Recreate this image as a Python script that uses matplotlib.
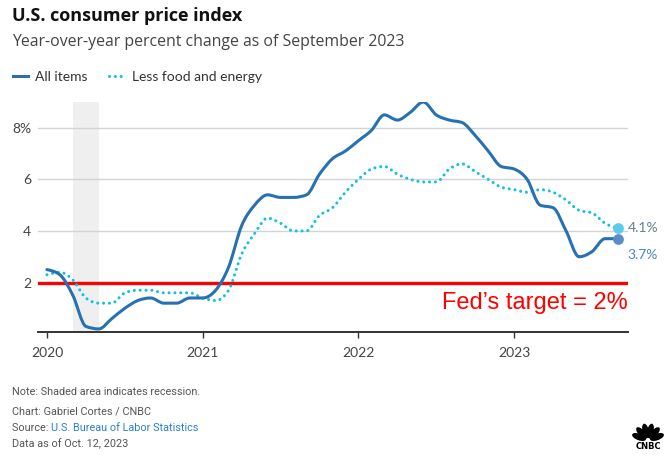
import numpy as np
import matplotlib.pyplot as plt
import matplotlib.patches as patches
from matplotlib.path import Path
from matplotlib.lines import Line2D

########## DATA (monthly, Jan 2020 .. Sep 2023) ##########
months = np.arange(45)  # 0 = Jan 2020
all_items = [2.5, 2.3, 1.5, 0.3, 0.2, 0.6, 1.0, 1.3, 1.4, 1.2, 1.2, 1.4,
             1.4, 1.7, 2.6, 4.2, 5.0, 5.4, 5.3, 5.3, 5.4, 6.2, 6.8, 7.1,
             7.5, 7.9, 8.5, 8.3, 8.6, 9.0, 8.5, 8.3, 8.2, 7.7, 7.1, 6.5,
             6.4, 6.0, 5.0, 4.9, 4.0, 3.0, 3.2, 3.7, 3.7]
core = [2.3, 2.4, 2.1, 1.4, 1.2, 1.2, 1.6, 1.7, 1.7, 1.6, 1.6, 1.6,
        1.4, 1.3, 1.7, 3.1, 3.9, 4.5, 4.3, 4.0, 4.0, 4.6, 4.9, 5.5,
        6.0, 6.4, 6.5, 6.2, 6.0, 5.9, 5.9, 6.4, 6.6, 6.3, 6.0, 5.7,
        5.6, 5.5, 5.6, 5.5, 5.2, 4.8, 4.7, 4.3, 4.1]
year_ticks = [0, 12, 24, 36]
year_labels = ['2020', '2021', '2022', '2023']
recession = (2, 4)   # Feb-Apr 2020
fed_target = 2

BLUE = '#2771b3'
CYAN = '#12bfe6'


def monotone_path(x, y):
    # monotone cubic (like d3 curveMonotoneX), returned as bezier path
    x = np.asarray(x, float)
    y = np.asarray(y, float)
    h = np.diff(x)
    d = np.diff(y) / h
    m = np.zeros_like(y)
    for i in range(1, len(y) - 1):
        s0, s1 = d[i - 1], d[i]
        p = (s0 * h[i] + s1 * h[i - 1]) / (h[i - 1] + h[i])
        m[i] = (np.sign(s0) + np.sign(s1)) * min(abs(s0), abs(s1), 0.5 * abs(p))
    m[0] = (3 * d[0] - m[1]) / 2
    m[-1] = (3 * d[-1] - m[-2]) / 2
    verts = [(x[0], y[0])]
    codes = [Path.MOVETO]
    for i in range(len(x) - 1):
        dx = h[i] / 3
        verts += [(x[i] + dx, y[i] + m[i] * dx),
                  (x[i + 1] - dx, y[i + 1] - m[i + 1] * dx),
                  (x[i + 1], y[i + 1])]
        codes += [Path.CURVE4] * 3
    return Path(verts, codes)


plt.rcParams['font.family'] = ['Lato', 'DejaVu Sans']

fig = plt.figure(figsize=(6.72, 4.69), dpi=100)
ax = fig.add_axes([0.0565, 0.2915, 0.878, 0.491])

ax.axvspan(recession[0], recession[1], color='#efefef', lw=0, zorder=0)
ax.grid(axis='y', color='#d3d3d3', lw=1, zorder=1)
ax.axhline(fed_target, color='#ff0000', lw=2.4, zorder=2)

p1 = patches.PathPatch(monotone_path(months, all_items), fill=False,
                       edgecolor=BLUE, lw=2.2, capstyle='round',
                       joinstyle='round', zorder=4)
ax.add_patch(p1)
p2 = patches.PathPatch(monotone_path(months, core), fill=False,
                       edgecolor=CYAN, lw=2.2, linestyle=(0, (0.01, 1.9)),
                       capstyle='round', zorder=3)
ax.add_patch(p2)

# end points
ax.scatter(months[-1], core[-1], s=60, color='#5ccbea', zorder=5, lw=0)
ax.scatter(months[-1], all_items[-1], s=60, color='#5a8dc6', zorder=5, lw=0)
ax.annotate(f'{core[-1]}%', (months[-1], core[-1]), xytext=(7, 0),
            textcoords='offset points', va='center', ha='left',
            fontsize=10, color='#62808e')
ax.annotate(f'{all_items[-1]}%', (months[-1], all_items[-1]), xytext=(7, -12),
            textcoords='offset points', va='center', ha='left',
            fontsize=10, color='#4a86c5')

ax.text(44.75, fed_target - 0.35, 'Fed\u2019s target = 2%', color='#ff0000',
        fontsize=17, ha='right', va='top', family=['Liberation Sans'])

ax.set_xlim(-0.69, 44.77)
ax.set_ylim(0.07, 9.0)
ax.set_yticks([2, 4, 6, 8])
ax.set_yticklabels(['2', '4', '6', '8%'])
ax.set_xticks(year_ticks)
ax.set_xticklabels(year_labels)
ax.tick_params(axis='y', length=0, pad=5, labelsize=10, labelcolor='#444444')
ax.tick_params(axis='x', length=4.5, width=1, color='#333333', pad=6,
               labelsize=10, labelcolor='#444444')
for s in ['top', 'right', 'left']:
    ax.spines[s].set_visible(False)
ax.spines['bottom'].set_color('#333333')
ax.spines['bottom'].set_linewidth(1.4)

# titles
fig.text(12 / 672, 1 - 16 / 469, 'U.S. consumer price index', fontsize=13,
         fontweight='bold', color='#111111', va='center', ha='left',
         family=['Open Sans', 'DejaVu Sans'])
fig.text(12 / 672, 1 - 41.5 / 469,
         'Year-over-year percent change as of September 2023',
         fontsize=11.4, color='#444444', va='center', ha='left',
         family=['Open Sans', 'DejaVu Sans'])

handles = [Line2D([], [], color=BLUE, lw=2.2),
           Line2D([], [], color=CYAN, lw=2.2, linestyle=(0, (0.01, 1.9)),
                  dash_capstyle='round')]
fig.legend(handles, ['All items', 'Less food and energy'], ncol=2,
           loc='center left', bbox_to_anchor=(0, 1 - 77 / 469),
           frameon=False, fontsize=10, handlelength=1.1, handletextpad=0.5,
           columnspacing=1.6, labelcolor='#333333')

# footer
foot = dict(fontsize=7.8, color='#555555', va='center', ha='left',
            family=['Roboto', 'DejaVu Sans'])
fig.text(12 / 672, 1 - 391.5 / 469, 'Note: Shaded area indicates recession.', **foot)
fig.text(12 / 672, 1 - 411.5 / 469, 'Chart: Gabriel Cortes / CNBC', **foot)
t = fig.text(12 / 672, 1 - 427.5 / 469, 'Source: ', **foot)
fig.canvas.draw()
bb = t.get_window_extent()
fig.text(bb.x1 / 672, 1 - 427.5 / 469, 'U.S. Bureau of Labor Statistics',
         **dict(foot, color='#2a7fd4'))
fig.text(12 / 672, 1 - 444 / 469, 'Data as of Oct. 12, 2023', **foot)

# simple peacock-style logo
lax = fig.add_axes([628 / 672, 1 - 452 / 469, 40 / 672, 32 / 469])
lax.set_xlim(-1.3, 1.3)
lax.set_ylim(-0.75, 1.3)
lax.axis('off')
for ang in np.linspace(20, 160, 6):
    e = patches.Ellipse((0.62 * np.cos(np.radians(ang)), 0.62 * np.sin(np.radians(ang))),
                        0.95, 0.42, angle=ang, color='black', lw=0)
    lax.add_patch(e)
lax.text(0, -0.42, 'CNBC', ha='center', va='center', fontsize=6,
         fontweight='bold', color='black', family=['DejaVu Sans'])

fig.savefig('out.png', dpi=100)
